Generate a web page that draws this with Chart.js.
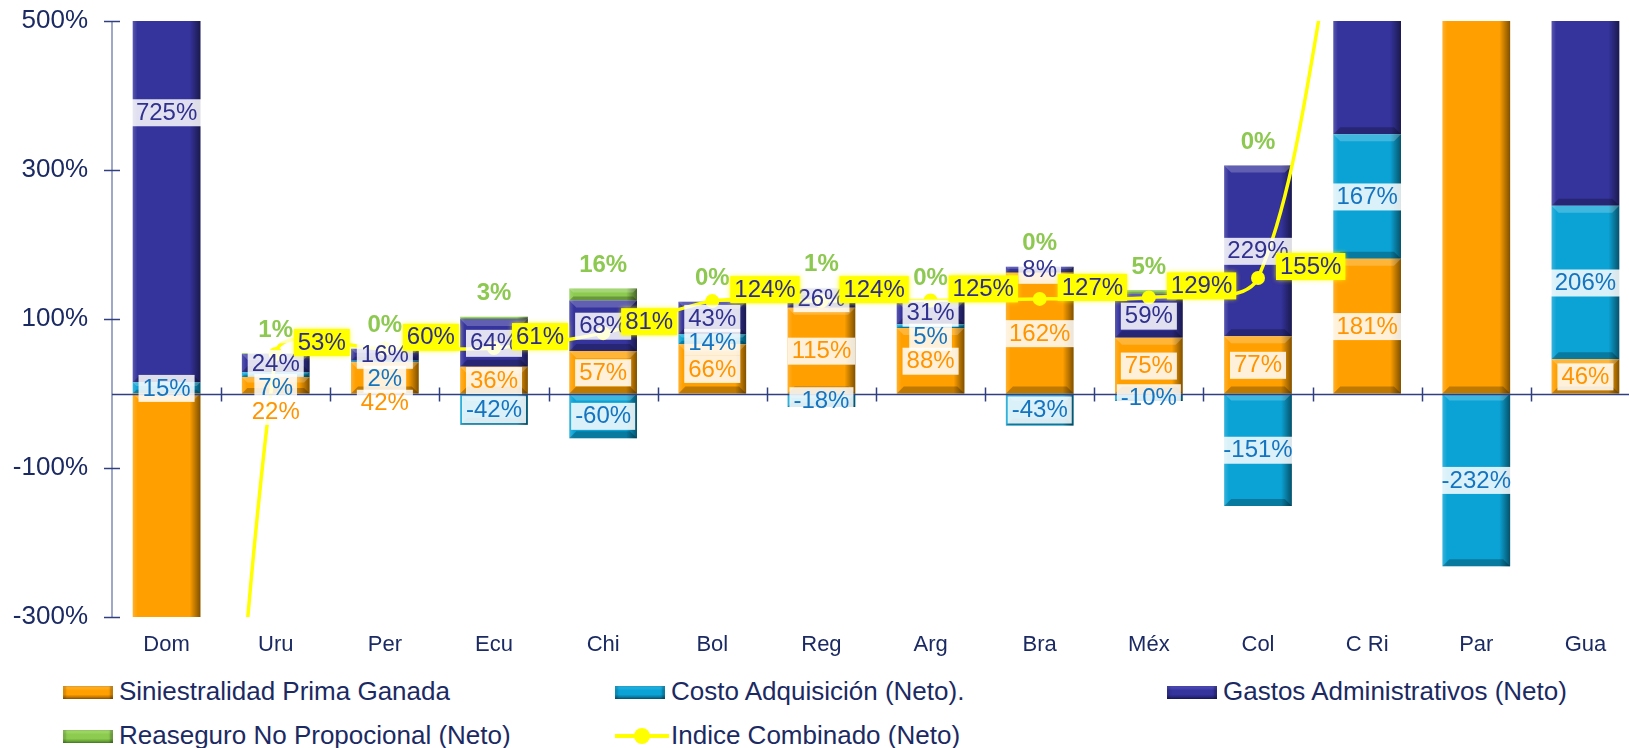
<!DOCTYPE html>
<html>
<head>
<meta charset="utf-8">
<script src="https://cdn.jsdelivr.net/npm/chart.js@4.4.1/dist/chart.umd.min.js"></script>
<style>
html, body { margin: 0; padding: 0; background: #fff; overflow: hidden; width: 1629px; height: 748px; }
#wrap { position: absolute; left: 0; top: 0; width: 1650px; height: 748px; }
#chart { position: absolute; left: 0; top: 0; }
.leg { position: absolute; font-family: "Liberation Sans", Arial, sans-serif; font-size: 26px; line-height: 30px; color: #1b2a63; white-space: nowrap; }
.mk { position: absolute; }
</style>
</head>
<body>
<div id="wrap">
  <canvas id="chart" width="1647" height="665"></canvas>
  <div id="legend"></div>
</div>
<script>
// categories and series (values in %)
const categories = ["Dom", "Uru", "Per", "Ecu", "Chi", "Bol", "Reg", "Arg", "Bra", "Méx", "Col", "C Ri", "Par", "Gua"];
const siniestralidad = [-2940, 22, 42, 36, 57, 66, 115, 88, 162, 75, 77, 181, 1200, 46];
const costoAdquisicion = [15, 7, 2, -42, -60, 14, -18, 5, -43, -10, -151, 167, -232, 206];
const gastosAdmin = [725, 24, 16, 64, 68, 43, 26, 31, 8, 59, 229, 452, 35, 560];
const reaseguro = [0, 1, 0, 3, 16, 0, 1, 0, 0, 5, 0, 0, 0, 0];
const indiceCombinado = [-2200, 53, 60, 61, 81, 124, 124, 125, 127, 129, 155, 800, 1003, 812];
const yTicks = [-300, -100, 100, 300, 500];

const FONT = "'Liberation Sans', Arial, sans-serif";
const NAVY_TEXT = "#1b2a63";

const barSeries = [
    { label: "Siniestralidad Prima Ganada", data: siniestralidad, color: "#ffa000", text: "#ff9400", legendTop: "#ffb638", legendBottom: "#9a5c00" },
    { label: "Costo Adquisición (Neto).", data: costoAdquisicion, color: "#0ba3d5", text: "#1474c0", legendTop: "#2bb8e6", legendBottom: "#0a5a7a" },
    { label: "Gastos Administrativos (Neto)", data: gastosAdmin, color: "#35339c", text: "#30308f", legendTop: "#5553c0", legendBottom: "#1c1b60" },
    { label: "Reaseguro No Propocional (Neto)", data: reaseguro, color: "#8ccb50", text: "#8dc850", legendTop: "#a8e070", legendBottom: "#4f8a25" }
];

const lineSeries = { label: "Indice Combinado (Neto)", data: indiceCombinado, color: "#ffff00" };

function shadeBar(ctx, el) {
    const w = el.width;
    const left = el.x - w / 2;
    const top = Math.min(el.y, el.base);
    const h = Math.abs(el.base - el.y);
    if (h < 1) return;
    const g = ctx.createLinearGradient(left, 0, left + w, 0);
    g.addColorStop(0, "rgba(255,255,255,0.18)");
    g.addColorStop(0.07, "rgba(255,255,255,0)");
    g.addColorStop(0.84, "rgba(0,0,0,0)");
    g.addColorStop(1, "rgba(0,0,0,0.5)");
    ctx.fillStyle = g;
    ctx.fillRect(left, top, w, h);
    const b = Math.min(7, h / 3);
    ctx.fillStyle = "rgba(255,255,255,0.22)";
    ctx.beginPath();
    ctx.moveTo(left, top);
    ctx.lineTo(left + w, top);
    ctx.lineTo(left + w - b, top + b);
    ctx.lineTo(left + b, top + b);
    ctx.closePath();
    ctx.fill();
    ctx.fillStyle = "rgba(0,0,0,0.25)";
    ctx.beginPath();
    ctx.moveTo(left, top + h);
    ctx.lineTo(left + w, top + h);
    ctx.lineTo(left + w - b, top + h - b);
    ctx.lineTo(left + b, top + h - b);
    ctx.closePath();
    ctx.fill();
}

function boxLabel(ctx, text, x, y, fill, color, align) {
    const w = ctx.measureText(text).width;
    const left = align === "left" ? x : x - w / 2 - 4;
    ctx.fillStyle = fill;
    ctx.fillRect(left, y - 13, w + 8, 27);
    ctx.fillStyle = color;
    ctx.fillText(text, left + 4 + w / 2, y + 1);
}

const bevelPlugin = {
    id: "bevel",
    afterDatasetDraw(chart, args) {
        if (args.meta.type !== "bar") return;
        const ctx = chart.ctx;
        const a = chart.chartArea;
        ctx.save();
        ctx.beginPath();
        ctx.rect(a.left, a.top, a.right - a.left, a.bottom - a.top);
        ctx.clip();
        args.meta.data.forEach(el => shadeBar(ctx, el));
        ctx.restore();
    }
};

const axisPlugin = {
    id: "axisMarks",
    beforeDatasetsDraw(chart) {
        const ctx = chart.ctx;
        const a = chart.chartArea;
        const y = chart.scales.y;
        ctx.save();
        ctx.strokeStyle = "#7f8db5";
        ctx.lineWidth = 1.5;
        ctx.beginPath();
        ctx.moveTo(a.left, a.top);
        ctx.lineTo(a.left, a.bottom);
        ctx.stroke();
        ctx.strokeStyle = "#2f3f7f";
        yTicks.forEach(v => {
            const py = Math.round(y.getPixelForValue(v)) + 0.5;
            ctx.beginPath();
            ctx.moveTo(a.left - 8, py);
            ctx.lineTo(a.left + 8, py);
            ctx.stroke();
        });
        ctx.restore();
    },
    afterDatasetsDraw(chart) {
        const ctx = chart.ctx;
        const a = chart.chartArea;
        const y = chart.scales.y;
        const y0 = Math.round(y.getPixelForValue(0)) + 0.5;
        ctx.save();
        ctx.strokeStyle = "#2f3f7f";
        ctx.lineWidth = 1.5;
        ctx.beginPath();
        ctx.moveTo(a.left, y0);
        ctx.lineTo(a.right, y0);
        ctx.stroke();
        const step = (a.right - a.left) / categories.length;
        for (let i = 1; i < categories.length; i++) {
            const px = Math.round(a.left + i * step) + 0.5;
            ctx.beginPath();
            ctx.moveTo(px, y0 - 7);
            ctx.lineTo(px, y0 + 7);
            ctx.stroke();
        }
        ctx.restore();
    }
};

const labelPlugin = {
    id: "segLabels",
    afterDraw(chart) {
        const ctx = chart.ctx;
        const a = chart.chartArea;
        const y = chart.scales.y;
        const inside = v => v >= a.top + 4 && v <= a.bottom - 4;
        ctx.save();
        ctx.textAlign = "center";
        ctx.textBaseline = "middle";
        ctx.font = "24px " + FONT;
        // segment labels, spread apart when they collide
        categories.forEach((c, i) => {
            const list = [0, 1, 2].map(di => {
                const el = chart.getDatasetMeta(di).data[i];
                return { di, el, cy: (el.y + el.base) / 2 };
            }).sort((p, q) => p.cy - q.cy);
            for (let k = 1; k < list.length; k++) {
                if (list[k].cy - list[k - 1].cy < 24) list[k].cy = list[k - 1].cy + 24;
            }
            list.forEach(l => {
                if (!inside(l.cy) || !inside((l.el.y + l.el.base) / 2)) return;
                boxLabel(ctx, barSeries[l.di].data[i] + "%", l.el.x, l.cy, "rgba(255,255,255,0.85)", barSeries[l.di].text);
            });
        });
        // reaseguro above the positive stack
        ctx.font = "bold 24px " + FONT;
        chart.getDatasetMeta(3).data.forEach((el, i) => {
            const top = barSeries.reduce((s, b) => s + Math.max(0, b.data[i]), 0);
            const cy = y.getPixelForValue(top) - 24;
            if (!inside(cy)) return;
            boxLabel(ctx, reaseguro[i] + "%", el.x, cy, "rgba(255,255,255,0.7)", barSeries[3].text);
        });
        // indice combinado
        ctx.font = "24px " + FONT;
        chart.getDatasetMeta(4).data.forEach((pt, i) => {
            if (!inside(pt.y)) return;
            ctx.shadowColor = "rgba(255,255,0,0.9)";
            ctx.shadowBlur = 5;
            boxLabel(ctx, indiceCombinado[i] + "%", pt.x + 18, pt.y - 12, "#ffff00", "#2e2e8a", "left");
            ctx.shadowBlur = 0;
        });
        ctx.restore();
    }
};

const datasets = barSeries.map(s => ({
    type: "bar",
    label: s.label,
    data: s.data,
    backgroundColor: s.color,
    borderWidth: 0,
    stack: "bars",
    order: 1,
    barPercentage: 0.62,
    categoryPercentage: 1
}));

datasets.push({
    type: "line",
    label: lineSeries.label,
    data: lineSeries.data,
    borderColor: lineSeries.color,
    backgroundColor: lineSeries.color,
    borderWidth: 3.5,
    tension: 0.3,
    pointRadius: 7,
    pointBorderWidth: 0,
    pointBackgroundColor: lineSeries.color,
    stack: "line",
    order: 0
});

new Chart(document.getElementById("chart").getContext("2d"), {
    data: { labels: categories, datasets: datasets },
    options: {
        responsive: false,
        animation: false,
        layout: { padding: { top: 21, right: 1, left: 0, bottom: 0 } },
        plugins: { legend: { display: false }, tooltip: { enabled: false } },
        scales: {
            x: {
                stacked: true,
                grid: { display: false, drawTicks: false },
                border: { display: false },
                ticks: { color: NAVY_TEXT, font: { family: FONT, size: 22 }, padding: 15 },
                afterFit: s => { s.height = 48; s.paddingLeft = 0; s.paddingRight = 0; }
            },
            y: {
                stacked: true,
                min: -300,
                max: 500,
                grid: { display: false, drawTicks: false },
                border: { display: false },
                afterBuildTicks: axis => { axis.ticks = yTicks.map(v => ({ value: v })); },
                ticks: { color: NAVY_TEXT, font: { family: FONT, size: 26 }, padding: 24, callback: v => v + "%" },
                afterFit: s => { s.width = 112; s.paddingTop = 0; s.paddingBottom = 0; }
            }
        }
    },
    plugins: [axisPlugin, bevelPlugin, labelPlugin]
});

// legend
const legend = document.getElementById("legend");
const cols = [63, 615, 1167];
const rows = [676, 720];
const items = barSeries.slice(0, 3).map((s, i) => ({ s, col: i, row: 0 }))
    .concat([{ s: barSeries[3], col: 0, row: 1 }, { s: null, col: 1, row: 1 }]);
items.forEach(it => {
    const left = cols[it.col];
    const top = rows[it.row];
    if (it.s) {
        const mk = document.createElement("div");
        mk.className = "mk";
        mk.style.left = left + "px";
        mk.style.top = (top + 10) + "px";
        mk.style.width = "50px";
        mk.style.height = "13px";
        mk.style.background = "linear-gradient(to bottom, " + it.s.legendTop + " 0%, " + it.s.color + " 35%, " + it.s.color + " 65%, " + it.s.legendBottom + " 100%)";
        mk.style.boxShadow = "inset -3px 0 2px rgba(0,0,0,0.25), inset 3px 0 2px rgba(0,0,0,0.15)";
        legend.appendChild(mk);
    } else {
        const ln = document.createElement("div");
        ln.className = "mk";
        ln.style.left = left + "px";
        ln.style.top = (top + 14) + "px";
        ln.style.width = "54px";
        ln.style.height = "4px";
        ln.style.background = lineSeries.color;
        legend.appendChild(ln);
        const dot = document.createElement("div");
        dot.className = "mk";
        dot.style.left = (left + 19) + "px";
        dot.style.top = (top + 8) + "px";
        dot.style.width = "16px";
        dot.style.height = "16px";
        dot.style.borderRadius = "50%";
        dot.style.background = lineSeries.color;
        legend.appendChild(dot);
    }
    const t = document.createElement("div");
    t.className = "leg";
    t.style.left = (left + 56) + "px";
    t.style.top = top + "px";
    t.textContent = it.s ? it.s.label : lineSeries.label;
    legend.appendChild(t);
});
</script>
</body>
</html>
